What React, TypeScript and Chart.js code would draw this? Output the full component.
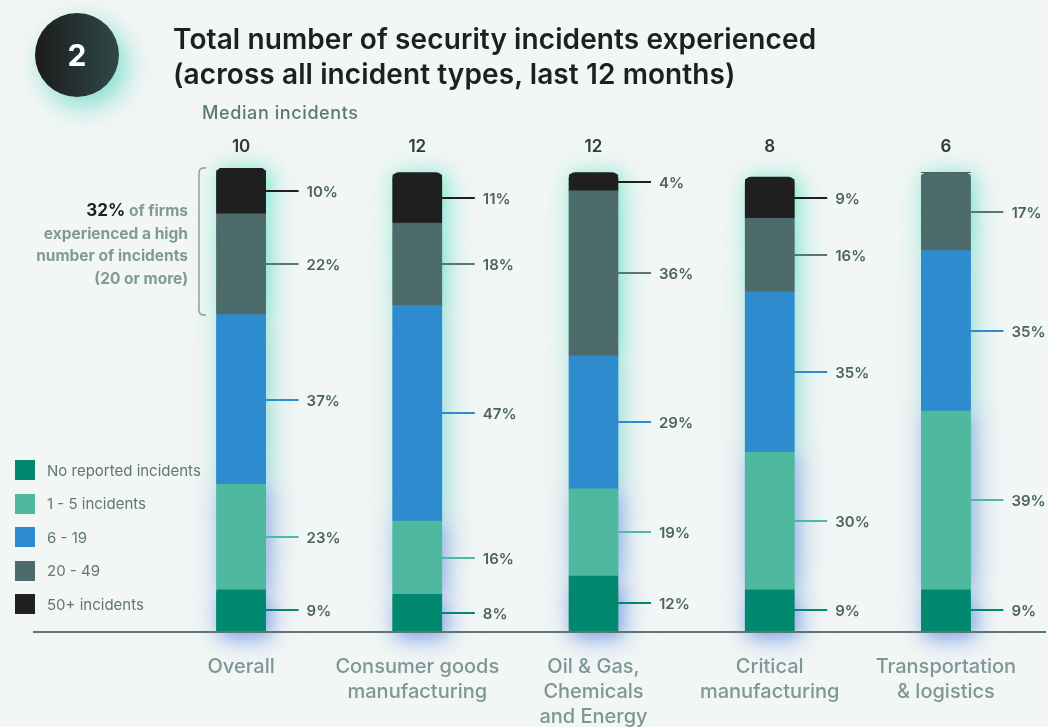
import React, { useEffect, useRef } from "react";
import { Chart, registerables } from "chart.js";

Chart.register(...registerables);

const categories: string[][] = [
  ["Overall"],
  ["Consumer goods", "manufacturing"],
  ["Oil & Gas,", "Chemicals", "and Energy"],
  ["Critical", "manufacturing"],
  ["Transportation", "& logistics"],
];
const medians = ["10", "12", "12", "8", "6"];
const seriesNames = ["No reported incidents", "1 - 5 incidents", "6 - 19", "20 - 49", "50+ incidents"];
const noReported = [9, 8, 12, 9, 9];
const oneToFive = [23, 16, 19, 30, 39];
const sixToNineteen = [37, 47, 29, 35, 35];
const twentyToFortyNine = [22, 18, 36, 16, 17];
const fiftyPlus = [10, 11, 4, 9, 0];
const seriesValues = [noReported, oneToFive, sixToNineteen, twentyToFortyNine, fiftyPlus];

const colors = ["#00896f", "#4fb9a0", "#2e8bce", "#4d6b6a", "#1f1f1f"];
const lineColors = ["#00896f", "#4fb9a0", "#2e8bce", "#5a7573", "#1f1f1f"];
const glowColors = [
  "rgba(95,140,225,0.55)",
  "rgba(110,155,225,0.5)",
  "rgba(125,215,210,0.5)",
  "rgba(115,225,205,0.6)",
  "rgba(115,230,205,0.65)",
];

const FONT = "Inter, 'Noto Sans', sans-serif";
const BG = "#f2f6f5";

const glowPlugin = {
  id: "glow",
  beforeDatasetsDraw(chart: any) {
    const ctx = chart.ctx;
    for (let pass = 0; pass < 2; pass++) {
      chart.data.datasets.forEach((ds: any, i: number) => {
        const meta = chart.getDatasetMeta(i);
        meta.data.forEach((el: any, j: number) => {
          if (!(ds.data[j] > 0)) return;
          ctx.save();
          ctx.shadowColor = glowColors[i];
          ctx.shadowBlur = pass === 0 ? 30 : 16;
          ctx.shadowOffsetX = 4;
          ctx.shadowOffsetY = i === 0 ? 6 : 0;
          ctx.fillStyle = colors[i];
          ctx.fillRect(el.x - el.width / 2, el.y + 2, el.width, el.base - el.y - 2);
          ctx.restore();
        });
      });
    }
  },
};

const annotatePlugin = {
  id: "annotate",
  afterDatasetsDraw(chart: any) {
    const ctx = chart.ctx;
    const area = chart.chartArea;
    const xScale = chart.scales.x;
    ctx.save();
    ctx.strokeStyle = "#5f7572";
    ctx.lineWidth = 2;
    ctx.beginPath();
    ctx.moveTo(33, area.bottom + 1);
    ctx.lineTo(1046, area.bottom + 1);
    ctx.stroke();
    chart.data.datasets.forEach((ds: any, i: number) => {
      const meta = chart.getDatasetMeta(i);
      meta.data.forEach((el: any, j: number) => {
        const v = ds.data[j];
        if (!(v > 0)) return;
        const midY = Math.round((el.y + el.base) / 2);
        const right = el.x + el.width / 2;
        ctx.strokeStyle = lineColors[i];
        ctx.lineWidth = 2;
        ctx.beginPath();
        ctx.moveTo(right, midY);
        ctx.lineTo(right + 33, midY);
        ctx.stroke();
        ctx.fillStyle = "#4b6462";
        ctx.font = `600 15px ${FONT}`;
        ctx.textAlign = "left";
        ctx.textBaseline = "middle";
        ctx.fillText(`${v}%`, right + 41, midY + 1);
      });
    });
    categories.forEach((lines, j) => {
      const x = xScale.getPixelForValue(j);
      ctx.fillStyle = "#2e3b3a";
      ctx.font = `600 17px ${FONT}`;
      ctx.textAlign = "center";
      ctx.textBaseline = "middle";
      ctx.fillText(medians[j], x, area.top - 21);
      ctx.fillStyle = "#7d9794";
      ctx.font = `500 20px ${FONT}`;
      lines.forEach((ln, k) => {
        ctx.fillText(ln, x, area.bottom + 36 + k * 25);
      });
    });
    ctx.restore();
  },
};

function ChartCanvas() {
  const ref = useRef<HTMLCanvasElement>(null);
  useEffect(() => {
    if (!ref.current) return;
    const chart = new Chart(ref.current, {
      type: "bar",
      data: {
        labels: categories.map((c) => c.join(" ")),
        datasets: seriesValues.map((vals, i) => ({
          label: seriesNames[i],
          data: vals,
          backgroundColor: colors[i],
          borderWidth: 0,
          borderRadius: 6,
          barThickness: 49,
        })),
      },
      options: {
        animation: false,
        responsive: false,
        maintainAspectRatio: false,
        layout: { padding: { left: 153, right: 14, top: 168, bottom: 96 } },
        plugins: { legend: { display: false }, tooltip: { enabled: false } },
        scales: {
          x: { stacked: true, display: false },
          y: { stacked: true, display: false, min: 0, max: 101 },
        },
      },
      plugins: [glowPlugin, annotatePlugin],
    });
    return () => chart.destroy();
  }, []);
  return <canvas ref={ref} width={1048} height={727} style={{ position: "absolute", left: 0, top: 0 }} />;
}

export default function App() {
  return (
    <div
      style={{
        position: "fixed",
        left: 0,
        top: 0,
        width: 1048,
        height: 727,
        background: BG,
        fontFamily: FONT,
        overflow: "hidden",
      }}
    >
      <ChartCanvas />
      <div
        style={{
          position: "absolute",
          left: 35,
          top: 13,
          width: 84,
          height: 84,
          borderRadius: "50%",
          background: "linear-gradient(90deg, #1b1c1c 0%, #304848 100%)",
          boxShadow: "8px 10px 26px rgba(95,215,195,0.75)",
          color: "#fff",
          fontSize: 30,
          fontWeight: 700,
          display: "flex",
          alignItems: "center",
          justifyContent: "center",
        }}
      >
        2
      </div>
      <div
        style={{
          position: "absolute",
          left: 173,
          top: 22,
          fontSize: 28,
          fontWeight: 600,
          letterSpacing: 0.1,
          lineHeight: "35px",
          color: "#1e1f1f",
          whiteSpace: "nowrap",
        }}
      >
        <div>Total number of security incidents experienced</div>
        <div>(across all incident types, last 12 months)</div>
      </div>
      <div
        style={{
          position: "absolute",
          left: 202,
          top: 102,
          fontSize: 18,
          fontWeight: 500,
          letterSpacing: 0.6,
          lineHeight: "22px",
          color: "#5b7a76",
          whiteSpace: "nowrap",
        }}
      >
        Median incidents
      </div>
      <div
        style={{
          position: "absolute",
          right: 1048 - 188,
          top: 199,
          fontSize: 15.5,
          fontWeight: 700,
          lineHeight: "22.7px",
          color: "#7f9a97",
          textAlign: "right",
          whiteSpace: "nowrap",
        }}
      >
        <div>
          <span style={{ color: "#1e1e1e", fontSize: 17 }}>32%</span> of firms
        </div>
        <div>experienced a high</div>
        <div>number of incidents</div>
        <div>(20 or more)</div>
      </div>
      <svg width={20} height={160} style={{ position: "absolute", left: 195, top: 162 }}>
        <path d="M 11 6 L 9 6 Q 4 6 4 11 L 4 148 Q 4 153 9 153 L 11 153" fill="none" stroke="#8aa19e" strokeWidth={1.5} />
      </svg>
      <div style={{ position: "absolute", left: 15, top: 460 }}>
        {seriesNames.map((n, i) => (
          <div key={n} style={{ display: "flex", alignItems: "center", height: 20, marginBottom: 13.5 }}>
            <div style={{ width: 20, height: 20, background: colors[i] }} />
            <div style={{ marginLeft: 12, fontSize: 15, color: "#5f7775", whiteSpace: "nowrap" }}>{n}</div>
          </div>
        ))}
      </div>
    </div>
  );
}
